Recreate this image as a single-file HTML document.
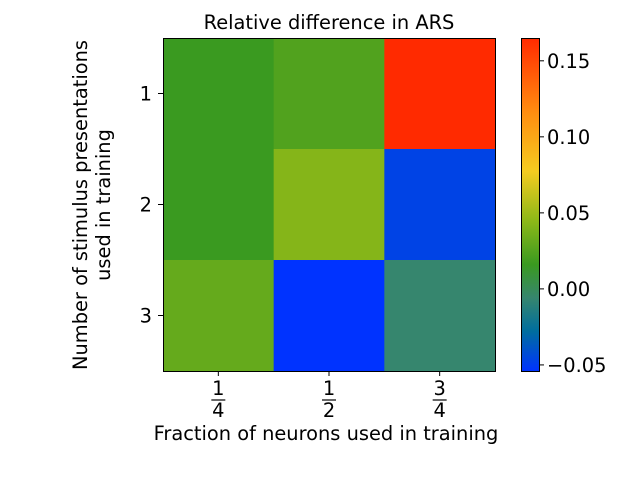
<!DOCTYPE html>
<html><head><meta charset="utf-8"><style>
body{margin:0;background:#fff;font-family:"DejaVu Sans","Liberation Sans",sans-serif}
</style></head><body>
<svg id="c" width="640" height="480" xmlns="http://www.w3.org/2000/svg" font-family="DejaVu Sans, Liberation Sans, sans-serif">
<defs><linearGradient id="g" x1="0" y1="1" x2="0" y2="0"></linearGradient></defs>
<text x="329" y="29" font-size="19.4" text-anchor="middle">Relative difference in ARS</text>
<g id="cells"></g>
<rect x="163.5" y="38.5" width="332" height="333" fill="none" stroke="#000" stroke-width="1"/>
<g id="ax" font-size="19.4"></g>
<text x="326" y="440" font-size="19.4" text-anchor="middle">Fraction of neurons used in training</text>
<g transform="translate(87,205) rotate(-90)">
<text x="0" y="0" font-size="19.4" text-anchor="middle">Number of stimulus presentations</text>
<text x="0" y="23" font-size="19.4" text-anchor="middle">used in training</text></g>
<rect x="521" y="38" width="18" height="333" fill="url(#g)"/>
<rect x="521.5" y="38.5" width="18" height="333" fill="none" stroke="#000"/>
<g id="cb" font-size="19.4"></g>
</svg>
<script>
const rowLabels=["1","2","3"];
const colLabels=[["1","4"],["1","2"],["3","4"]];
const values=[
 [0.016,0.024,0.165],
 [0.016,0.042,-0.047],
 [0.031,-0.054,-0.0058]];
const cbTicks=[-0.05,0.00,0.05,0.10,0.15];
const cbTickLabels=["\u22120.05","0.00","0.05","0.10","0.15"];
const vmin=-0.054,vmax=0.165;
const stops=[[0,"#0033ff"],[0.12,"#006e9e"],[0.22,"#36866e"],[0.32,"#3a9a20"],[0.45,"#8cb818"],[0.6,"#f5cc20"],[0.78,"#ff8c10"],[1,"#ff2a00"]];
const NS="http://www.w3.org/2000/svg";
function hex(h){return [1,3,5].map(i=>parseInt(h.substr(i,2),16));}
function cmap(v){let f=Math.max(0,Math.min(1,(v-vmin)/(vmax-vmin)));
 for(let i=1;i<stops.length;i++){if(f<=stops[i][0]){const a=stops[i-1],b=stops[i];const t=(f-a[0])/(b[0]-a[0]);const A=hex(a[1]),B=hex(b[1]);return "rgb("+A.map((x,k)=>Math.round(x+(B[k]-x)*t)).join(",")+")";}}return stops[stops.length-1][1];}
const X0=163,Y0=38,W=332,H=333;
const xs=i=>X0+i*W/colLabels.length, ys=j=>Y0+j*H/rowLabels.length;
const cbY=v=>371-(v-vmin)/(vmax-vmin)*333;
const grad=document.getElementById('g');
stops.forEach(s=>{const st=document.createElementNS(NS,'stop');st.setAttribute('offset',s[0]);st.setAttribute('stop-color',s[1]);grad.appendChild(st);});
const cells=document.getElementById('cells');
values.forEach((row,j)=>row.forEach((v,i)=>{const r=document.createElementNS(NS,'rect');
r.setAttribute('x',xs(i));r.setAttribute('y',ys(j));r.setAttribute('width',xs(i+1)-xs(i)+0.5);r.setAttribute('height',ys(j+1)-ys(j)+0.5);r.setAttribute('fill',cmap(v));


cells.appendChild(r);}));
const ax=document.getElementById('ax');
function add(tag,attrs,txt,p){const e=document.createElementNS(NS,tag);for(const k in attrs)e.setAttribute(k,attrs[k]);if(txt)e.textContent=txt;(p||ax).appendChild(e);return e;}
rowLabels.forEach((l,j)=>{const y=(ys(j)+ys(j+1))/2;
 add('line',{x1:163,x2:158,y1:y,y2:y,stroke:'#000'});
 const t=add('text',{x:152,y:y+7,'text-anchor':'end'},l);
 
 });
colLabels.forEach((l,i)=>{const x=(xs(i)+xs(i+1))/2;
 add('line',{x1:x,x2:x,y1:371,y2:376,stroke:'#000'});
 const t=add('text',{x:x,y:395,'text-anchor':'middle'},l[0]);
 
 
 add('line',{x1:x-7,x2:x+7,y1:400,y2:400,stroke:'#000','stroke-width':1.2});
 const b=add('text',{x:x,y:417,'text-anchor':'middle'},l[1]);
 
 });
const cb=document.getElementById('cb');
cbTicks.forEach((v,k)=>{const y=cbY(v);
 add('line',{x1:539,x2:544,y1:y,y2:y,stroke:'#000'},null,cb);
 const t=add('text',{x:547,y:y+7},cbTickLabels[k],cb);
 
 });
</script>
</body></html>
